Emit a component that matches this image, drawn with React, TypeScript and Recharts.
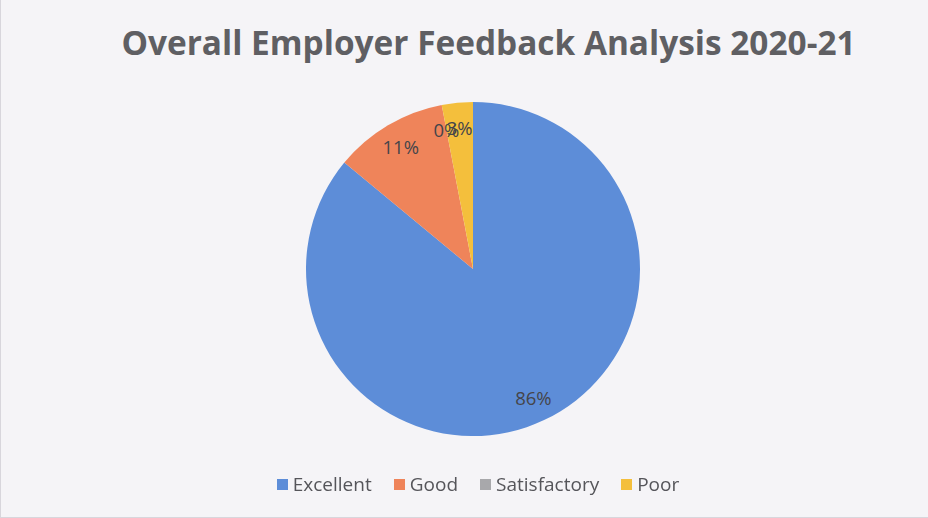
import React from "react";
import { PieChart, Pie, Cell, Legend } from "recharts";

const categories = ["Excellent", "Good", "Satisfactory", "Poor"];
const values = [86, 11, 0, 3];
const colors = ["#5d8dd8", "#ef845a", "#a8a8ab", "#f4bf3c"];
const title = "Overall Employer Feedback Analysis 2020-21";

const data = categories.map((name, i) => ({ name, value: values[i] }));

const RAD = Math.PI / 180;

const renderLabel = (props: any) => {
  const { cx, cy, midAngle, outerRadius, value } = props;
  const r = outerRadius * 0.85;
  const x = cx + r * Math.cos(-midAngle * RAD);
  const y = cy + r * Math.sin(-midAngle * RAD);
  return (
    <text
      x={x}
      y={y}
      fill="#45454a"
      fontSize={18.5}
      fontFamily="'Open Sans', sans-serif"
      textAnchor="middle"
      dominantBaseline="central"
    >
      {value + "%"}
    </text>
  );
};

const renderLegend = () => (
  <div
    style={{
      display: "flex",
      justifyContent: "center",
      alignItems: "center",
      fontFamily: "'Open Sans', sans-serif",
      fontSize: 19,
      color: "#55555a",
      lineHeight: "24px",
    }}
  >
    {categories.map((c, i) => (
      <span
        key={c}
        style={{ display: "flex", alignItems: "center", marginRight: i < categories.length - 1 ? 22 : 0 }}
      >
        <span
          style={{ width: 11, height: 11, background: colors[i], display: "inline-block", marginRight: 5 }}
        />
        {c}
      </span>
    ))}
  </div>
);

export default function App() {
  return (
    <div
      style={{
        position: "fixed",
        left: 0,
        top: 0,
        width: 928,
        height: 518,
        background: "#f5f4f7",
        boxSizing: "border-box",
        borderLeft: "1px solid #d8d6dc",
        borderBottom: "1px solid #d8d6dc",
      }}
    >
      <div
        style={{
          position: "absolute",
          left: 0,
          width: 975,
          top: 22,
          textAlign: "center",
          fontFamily: "'Open Sans', sans-serif",
          fontWeight: 700,
          fontSize: 33.4,
          color: "#5f5f63",
          lineHeight: "40px",
        }}
      >
        {title}
      </div>
      <PieChart width={928} height={518} margin={{ top: 0, right: 0, bottom: 0, left: 0 }}>
        <Pie
          data={data}
          dataKey="value"
          nameKey="name"
          cx={472}
          cy={269}
          outerRadius={167}
          startAngle={90}
          endAngle={-270}
          stroke="none"
          label={renderLabel}
          labelLine={false}
          isAnimationActive={false}
        >
          {data.map((d, i) => (
            <Cell key={d.name} fill={colors[i]} />
          ))}
        </Pie>
        <Legend
          content={renderLegend}
          wrapperStyle={{ left: 0, width: 954, top: 472 }}
        />
      </PieChart>
    </div>
  );
}
